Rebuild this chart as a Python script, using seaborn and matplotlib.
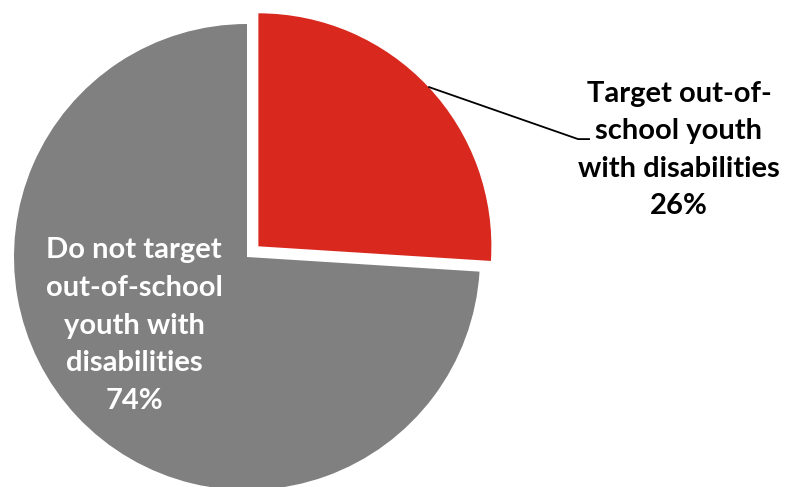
import numpy as np
import matplotlib
matplotlib.use("Agg")
import matplotlib.pyplot as plt
import seaborn as sns

CATEGORIES = ["Target out-of-\nschool youth\nwith disabilities", "Do not target\nout-of-school\nyouth with\ndisabilities"]
SHARES = [26, 74]
COLORS = ["#d9291e", "#808080"]
EXPLODE = [0.067, 0.0]

sns.set_theme(style="white")
plt.rcParams["font.family"] = ["Lato", "DejaVu Sans"]

fig = plt.figure(figsize=(7.86, 4.87), dpi=100)
ax = fig.add_axes([0, 0, 1, 1])

wedges, _ = ax.pie(SHARES, colors=COLORS, explode=EXPLODE, startangle=90,
                   counterclock=False, radius=1.0,
                   wedgeprops={"linewidth": 0})

# place the pie: centre at pixel (247, 257), radius 233 px
ax.set_aspect("auto")
ax.set_xlim(-247 / 233, (786 - 247) / 233)
ax.set_ylim((257 - 487) / 233, 257 / 233)
ax.axis("off")

# leader line for the red slice, from the middle of its arc
w = wedges[0]
mid = np.deg2rad((w.theta1 + w.theta2) / 2)
cx, cy = w.center
x0, y0 = cx + np.cos(mid), cy + np.sin(mid)
ax.plot([x0, 1.421, 1.472], [y0, 0.506, 0.506], color="black", lw=1.3,
        solid_capstyle="butt")

ax.text(1.854, 0.459, f"{CATEGORIES[0]}\n{SHARES[0]}%", ha="center", va="center",
        fontsize=21, fontweight="bold", color="black", linespacing=1.55)
ax.text(-0.485, -0.294, f"{CATEGORIES[1]}\n{SHARES[1]}%", ha="center", va="center",
        fontsize=21, fontweight="bold", color="white", linespacing=1.55)

fig.savefig("out.png", dpi=100)
